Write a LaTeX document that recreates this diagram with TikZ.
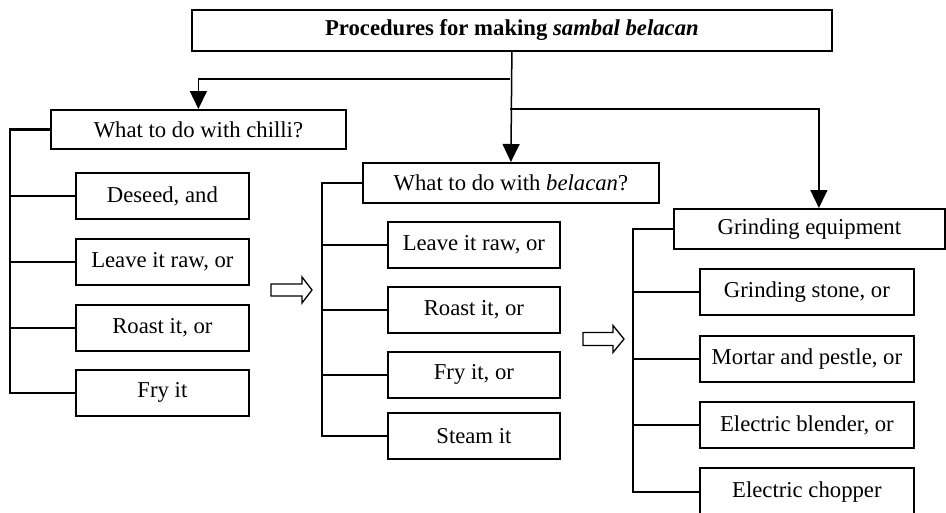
\documentclass[tikz,border=0pt]{standalone}
\usepackage{fontspec}
\setmainfont{Liberation Serif}
\usetikzlibrary{arrows.meta}
\tikzset{
  box/.style={draw, line width=1.8pt, inner sep=0pt, anchor=north west,
    font=\fontsize{22.7}{26}\selectfont, align=center},
  bracket/.style={line width=2.2pt},
  link/.style={line width=1.5pt},
  tip/.style={-{Triangle[length=18pt,width=17pt]}},
  hollow/.style={draw, line width=1.3pt, line join=miter}
}
\begin{document}
\begin{tikzpicture}[x=1pt,y=-1pt]
\useasboundingbox (0,0) rectangle (946,512);
% title
\node[box, minimum width=640pt, minimum height=41pt] (title) at (191,9)
  {\textbf{Procedures for making \textit{sambal belacan}}};
% level 1
\node[box, minimum width=295pt, minimum height=39pt] (chilli) at (50,109) {What to do with chilli?};
\node[box, minimum width=296pt, minimum height=40pt] (belacan) at (362,162) {What to do with \textit{belacan}?};
\node[box, minimum width=271pt, minimum height=40pt] (grind) at (673,208) {Grinding equipment};
% chilli children
\node[box, minimum width=173pt, minimum height=46pt] (c1) at (75,172) {Deseed, and};
\node[box, minimum width=173pt, minimum height=46pt] (c2) at (75,238) {Leave it raw, or};
\node[box, minimum width=173pt, minimum height=46pt] (c3) at (75,304) {Roast it, or};
\node[box, minimum width=173pt, minimum height=46pt] (c4) at (75,369) {Fry it};
% belacan children
\node[box, minimum width=172pt, minimum height=46pt] (b1) at (387,221) {Leave it raw, or};
\node[box, minimum width=172pt, minimum height=46pt] (b2) at (387,286) {Roast it, or};
\node[box, minimum width=172pt, minimum height=46pt] (b3) at (387,351) {Fry it, or};
\node[box, minimum width=172pt, minimum height=46pt] (b4) at (387,412) {Steam it};
% grinding children
\node[box, minimum width=214pt, minimum height=46pt] (g1) at (699,268) {Grinding stone, or};
\node[box, minimum width=214pt, minimum height=46pt] (g2) at (699,335) {Mortar and pestle, or};
\node[box, minimum width=214pt, minimum height=46pt] (g3) at (699,401) {Electric blender, or};
\node[box, minimum width=214pt, minimum height=48pt] (g4) at (699,467) {Electric chopper};
% top connectors
\coordinate (j1) at (510,79);
\coordinate (j2) at (510,109);
\draw[link,tip] (title.south) -- (belacan.north);
\draw[link,tip] (j1) -| (chilli.north);
\draw[link,tip] (j2) -| ([xshift=9.5pt]grind.north);
% brackets
\coordinate (ca) at (10,0);
\coordinate (ba) at (322,0);
\coordinate (ga) at (633,0);
\draw[bracket] (chilli.west) -| (ca |- c4.west) -- (c4.west);
\foreach \n in {c1,c2,c3} \draw[link] (\n.west) -- (\n.west -| ca);
\draw[bracket] (belacan.west) -| (ba |- b4.west) -- (b4.west);
\foreach \n in {b1,b2,b3} \draw[link] (\n.west) -- (\n.west -| ba);
\draw[bracket] (grind.west) -| (ga |- g4.west) -- (g4.west);
\foreach \n in {g1,g2,g3} \draw[link] (\n.west) -- (\n.west -| ga);
% hollow arrows
\coordinate (h1) at (271,290);
\draw[hollow] (h1) -- ++(0,-6) -- ++(31,0) -- ++(0,-7) -- ++(10,13) -- ++(-10,13) -- ++(0,-7) -- ++(-31,0) -- cycle;
\coordinate (h2) at (583,338.5);
\draw[hollow] (h2) -- ++(0,-6) -- ++(30,0) -- ++(0,-7) -- ++(11,13.5) -- ++(-11,13.5) -- ++(0,-7) -- ++(-30,0) -- cycle;
\end{tikzpicture}
\end{document}
